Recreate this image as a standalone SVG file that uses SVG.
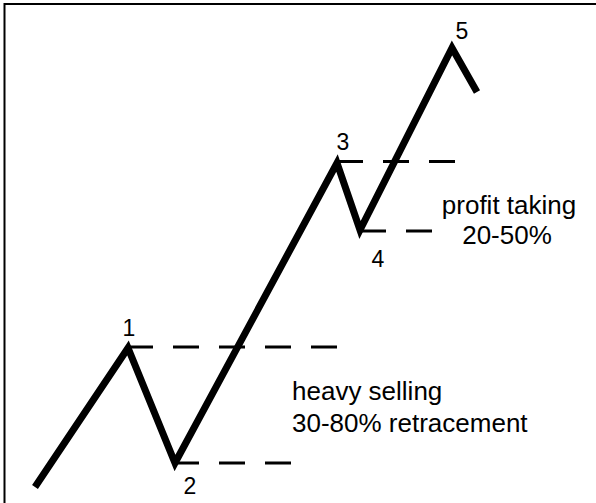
<svg xmlns="http://www.w3.org/2000/svg" width="596" height="503" viewBox="0 0 596 503">
<style>
.wave{fill:none;stroke:#000;stroke-width:7;stroke-linejoin:miter;stroke-miterlimit:10}
.lvl{stroke:#000;stroke-width:3;stroke-dasharray:26 20}
.lbl{font-family:"Liberation Sans",Arial,sans-serif;font-size:23px;fill:#000;text-anchor:middle}
.note{font-family:"Liberation Sans",Arial,sans-serif;font-size:26px;fill:#000}
</style>
<rect width="596" height="503" fill="#fff"/>
<path d="M4.5,503 V4 H596" fill="none" stroke="#000" stroke-width="2"/>
<g id="connectors">
<line class="lvl" x1="127" y1="347" x2="338" y2="347"/>
<line class="lvl" x1="173" y1="463" x2="292" y2="463"/>
<line class="lvl" x1="337" y1="161.5" x2="455" y2="161.5"/>
<line class="lvl" x1="360" y1="231" x2="432" y2="231"/>
<path class="wave" d="M35,487 L128,348 L175,463 L337,163 L360,230 L452,48 L477,92"/>
</g>
<g id="p1"><text class="lbl" x="129" y="336">1</text></g>
<g id="p2"><text class="lbl" x="190" y="494">2</text></g>
<g id="p3"><text class="lbl" x="343" y="150">3</text></g>
<g id="p4"><text class="lbl" x="378" y="267">4</text></g>
<g id="p5"><text class="lbl" x="462" y="39">5</text></g>
<g id="note1"><text class="note" x="292" y="400">heavy selling</text><text class="note" x="292" y="432">30-80% retracement</text></g>
<g id="note2"><text class="note" x="509" y="214" text-anchor="middle">profit taking</text><text class="note" x="507" y="244" text-anchor="middle">20-50%</text></g>
</svg>
